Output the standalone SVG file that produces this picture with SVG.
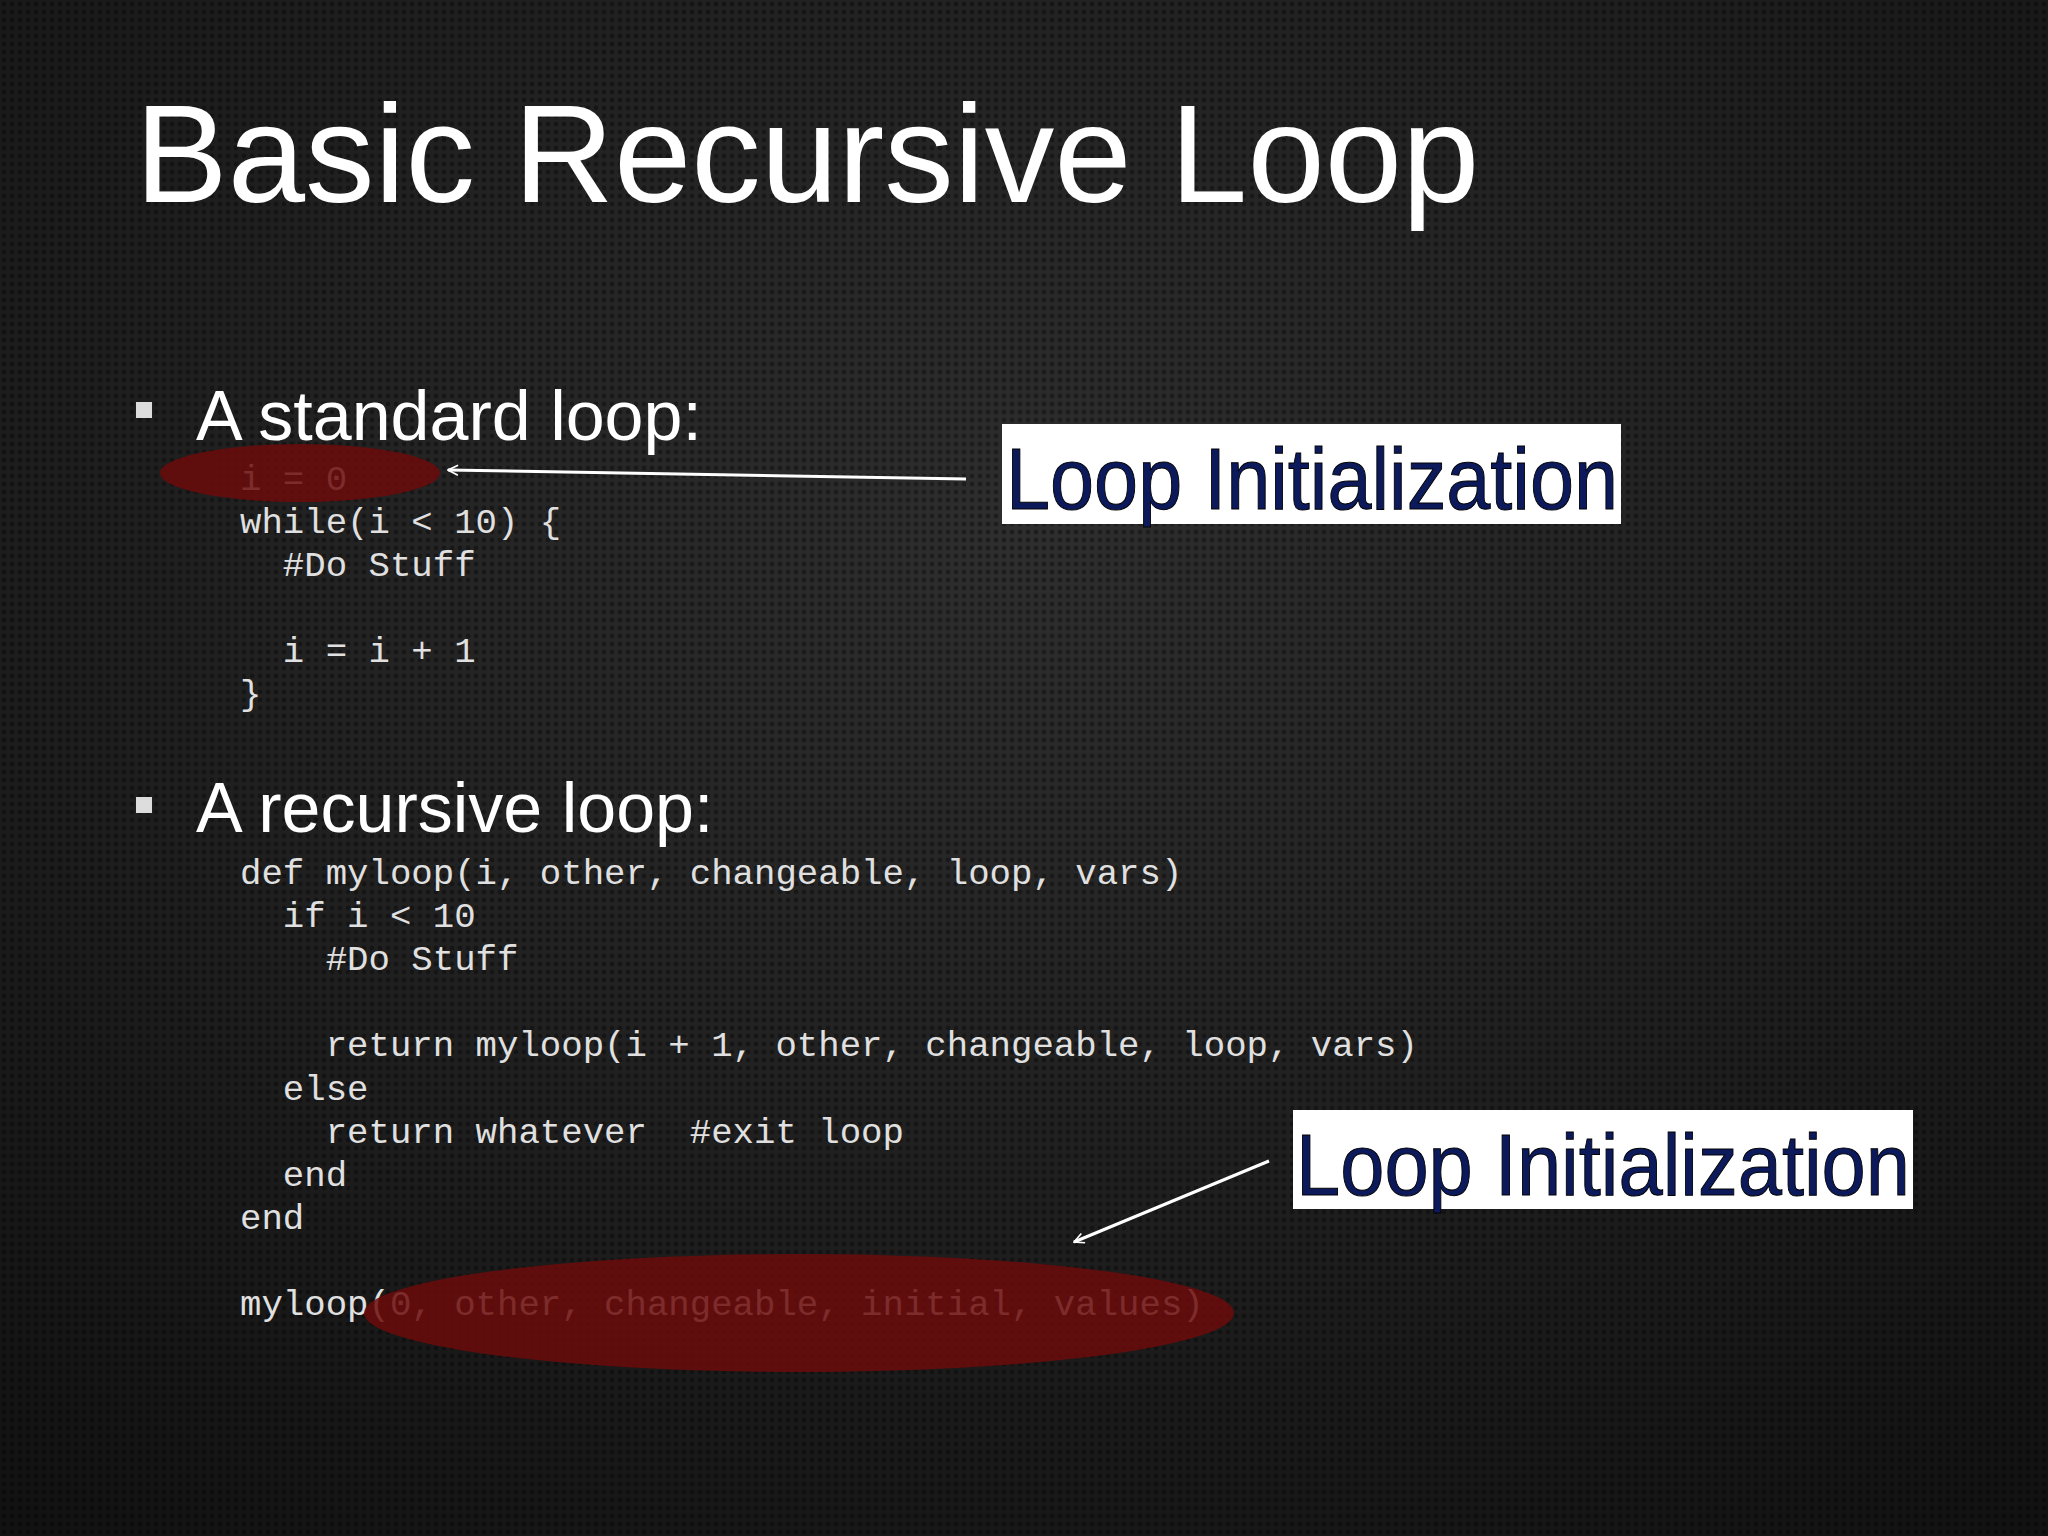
<svg xmlns="http://www.w3.org/2000/svg" width="2048" height="1536" viewBox="0 0 2048 1536">
<defs>
<radialGradient id="bg" cx="0.5" cy="0.35" r="0.8">
<stop offset="0" stop-color="#2e2e2e"/><stop offset="1" stop-color="#121212"/>
</radialGradient>
<pattern id="dots" width="8" height="8" patternUnits="userSpaceOnUse">
<circle cx="4" cy="4" r="2.4" fill="#000" opacity="0.35"/>
</pattern>
<marker id="ah" viewBox="0 0 12 12" refX="11" refY="6" markerWidth="12" markerHeight="12" markerUnits="userSpaceOnUse" orient="auto">
<path d="M1,1 L11,6 L1,11" fill="none" stroke="#fff" stroke-width="1.6"/>
</marker>
<style>
.t{font-family:"Liberation Sans",Arial,sans-serif;fill:#fff}
.c{font-family:"Liberation Mono","Courier New",monospace;font-size:35.7px;fill:#e0e0e0;white-space:pre}
.lab{font-family:"Liberation Sans",Arial,sans-serif;font-size:88px;fill:#0c1a5c;stroke:#000;stroke-width:1}
.ell{fill:#6b0a0a;opacity:0.85}
</style>
</defs>
<rect width="2048" height="1536" fill="url(#bg)"/>
<rect width="2048" height="1536" fill="url(#dots)"/>
<text class="t" x="135" y="202" font-size="139">Basic Recursive Loop</text>
<rect x="136" y="402" width="16" height="16" fill="#ddd"/>
<text class="t" x="196" y="440" font-size="70">A standard loop:</text>
<text class="c" xml:space="preserve"><tspan x="240" y="490">i = 0</tspan><tspan x="240" y="533">while(i &lt; 10) {</tspan><tspan x="240" y="576">  #Do Stuff</tspan><tspan x="240" y="662">  i = i + 1</tspan><tspan x="240" y="705">}</tspan></text>
<g id="ellipse1"><ellipse class="ell" cx="300" cy="473" rx="140" ry="29"/></g>
<rect x="136" y="797" width="16" height="16" fill="#ddd"/>
<text class="t" x="196" y="832" font-size="70">A recursive loop:</text>
<text class="c" xml:space="preserve"><tspan x="240" y="884">def myloop(i, other, changeable, loop, vars)</tspan><tspan x="240" y="927">  if i &lt; 10</tspan><tspan x="240" y="970">    #Do Stuff</tspan><tspan x="240" y="1056">    return myloop(i + 1, other, changeable, loop, vars)</tspan><tspan x="240" y="1100">  else</tspan><tspan x="240" y="1143">    return whatever  #exit loop</tspan><tspan x="240" y="1186">  end</tspan><tspan x="240" y="1229">end</tspan><tspan x="240" y="1315">myloop(0, other, changeable, initial, values)</tspan></text>
<g id="ellipse2"><ellipse class="ell" cx="799" cy="1313" rx="435" ry="59"/></g>
<g id="connectors">
<line x1="966" y1="479" x2="448" y2="470" stroke="#fff" stroke-width="3" marker-end="url(#ah)"/>
<line x1="1269" y1="1161" x2="1074" y2="1242" stroke="#fff" stroke-width="3" marker-end="url(#ah)"/>
</g>
<g id="label1">
<rect x="1002" y="424" width="619" height="100" fill="#fff"/>
<text class="lab" x="1006" y="509" textLength="612" lengthAdjust="spacingAndGlyphs">Loop Initialization</text>
</g>
<g id="label2">
<rect x="1293" y="1110" width="620" height="99" fill="#fff"/>
<text class="lab" x="1296" y="1195" textLength="614" lengthAdjust="spacingAndGlyphs">Loop Initialization</text>
</g>
</svg>
